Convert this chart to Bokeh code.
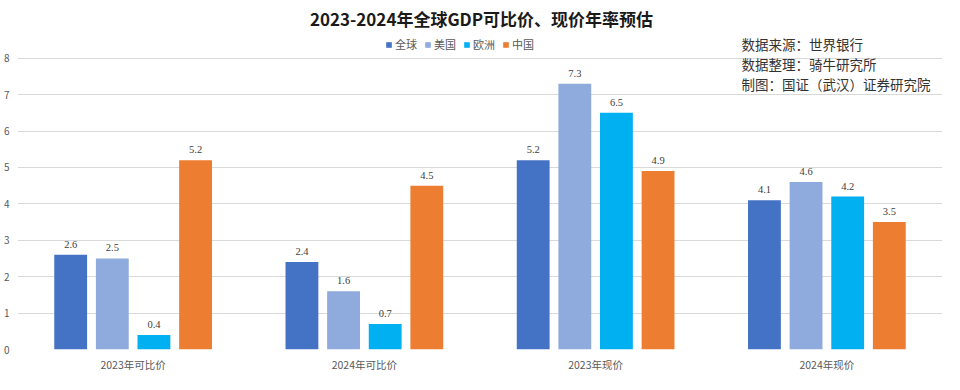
from bokeh.plotting import figure
from bokeh.models import ColumnDataSource, LabelSet, Label, Legend, LegendItem, FixedTicker
from bokeh.transform import dodge
from bokeh.embed import file_html
from bokeh.resources import INLINE

categories = ["2023年可比价", "2024年可比价", "2023年现价", "2024年现价"]
series_names = ["全球", "美国", "欧洲", "中国"]
global_vals = [2.6, 2.4, 5.2, 4.1]
us_vals = [2.5, 1.6, 7.3, 4.6]
eu_vals = [0.4, 0.7, 6.5, 4.2]
cn_vals = [5.2, 4.5, 4.9, 3.5]
colors = ["#4472C4", "#8FAADC", "#00B0F0", "#ED7D31"]
y_ticks = [0, 1, 2, 3, 4, 5, 6, 7, 8]
title_text = "2023-2024年全球GDP可比价、现价年率预估"
notes = ["数据来源：世界银行", "数据整理：骑牛研究所", "制图：国证（武汉）证券研究院"]

FONT = "Noto Sans CJK SC"

p = figure(x_range=categories, y_range=(0, 9.584), width=944, height=374,
           output_backend="svg", toolbar_location=None,
           min_border_left=16, min_border_right=2, min_border_top=0, min_border_bottom=23)

# title drawn inside the frame's top area
p.add_layout(Label(x=464, y=331, x_units="screen", y_units="screen", text=title_text,
                   text_font=FONT, text_font_size="17px", text_font_style="bold",
                   text_color="#1a1a1a", text_align="center", text_baseline="middle"))

src = ColumnDataSource(dict(cat=categories, g=global_vals, us=us_vals, eu=eu_vals, cn=cn_vals,
                            g_t=[str(v) for v in global_vals], us_t=[str(v) for v in us_vals],
                            eu_t=[str(v) for v in eu_vals], cn_t=[str(v) for v in cn_vals]))

offsets = [-0.27, -0.09, 0.09, 0.27]
keys = ["g", "us", "eu", "cn"]
items = []
for key, off, col, name in zip(keys, offsets, colors, series_names):
    r = p.vbar(x=dodge("cat", off, range=p.x_range), top=key, width=0.142, source=src,
               fill_color=col, line_color=None)
    items.append(LegendItem(label=name, renderers=[r]))
    lab = LabelSet(x=dodge("cat", off, range=p.x_range), y=key, text=key + "_t", source=src,
                   y_offset=7, text_align="center", text_baseline="bottom",
                   text_font=FONT, text_font_size="10.5px", text_color="#404040")
    p.add_layout(lab)

legend = Legend(items=items, orientation="horizontal", location=(368, 297),
                padding=0, margin=0, spacing=7, label_standoff=3,
                glyph_width=7, glyph_height=7, label_height=12,
                label_text_font=FONT, label_text_font_size="11px", label_text_color="#595959",
                background_fill_alpha=0, border_line_color=None)
p.add_layout(legend, "center")

for i, note in enumerate(notes):
    p.add_layout(Label(x=724, y=306 - 20 * i, x_units="screen", y_units="screen", text=note,
                       text_font=FONT, text_font_size="13.5px", text_color="#333333",
                       text_baseline="middle", text_align="left"))

p.yaxis.ticker = FixedTicker(ticks=y_ticks)
p.yaxis.axis_line_color = None
p.yaxis.major_tick_line_color = None
p.yaxis.minor_tick_line_color = None
p.yaxis.major_tick_out = 0
p.yaxis.major_tick_in = 0
p.yaxis.minor_tick_out = 0
p.yaxis.major_label_text_font = FONT
p.yaxis.major_label_text_font_size = "10px"
p.yaxis.major_label_text_color = "#595959"
p.yaxis.major_label_standoff = 8

p.xaxis.axis_line_color = None
p.xaxis.major_tick_line_color = None
p.xaxis.major_tick_out = 0
p.xaxis.major_tick_in = 0
p.xaxis.major_label_text_font = FONT
p.xaxis.major_label_text_font_size = "10.5px"
p.xaxis.major_label_text_color = "#595959"
p.xaxis.major_label_standoff = 7

p.xgrid.grid_line_color = None
p.ygrid.grid_line_color = "#d9d9d9"
p.outline_line_color = None

open("out.html", "w").write(file_html(p, INLINE))
